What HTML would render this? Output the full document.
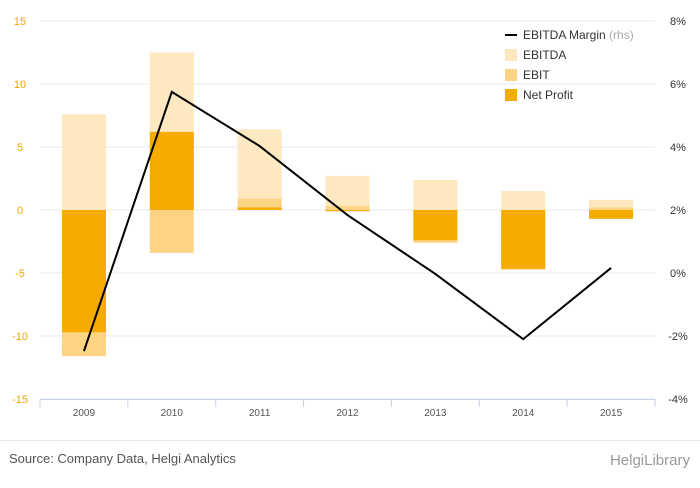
<!DOCTYPE html>
<html><head><meta charset="utf-8"><style>
body{margin:0;background:#fff;font-family:"Liberation Sans",sans-serif}
svg text{font-family:"Liberation Sans",sans-serif}
</style></head><body>
<svg id="c" width="700" height="483"></svg>
<script>
const categories=["2009","2010","2011","2012","2013","2014","2015"];
const ebitda=[7.6,12.5,6.4,2.7,2.4,1.5,0.8];
const ebit=[-11.6,-3.4,0.9,0.3,-2.6,-4.7,0.2];
const netProfit=[-9.7,6.2,0.2,-0.1,-2.4,-4.7,-0.7];
const margin=[-2.48,5.75,4.03,1.84,-0.03,-2.1,0.16];
const leftTicks=[15,10,5,0,-5,-10,-15];
const rightTicks=[8,6,4,2,0,-2,-4];
const NS="http://www.w3.org/2000/svg";
const svg=document.getElementById('c');
const x0=40,x1=655,yTop=21,yBot=399;
const band=(x1-x0)/categories.length;
const xc=i=>x0+band*(i+0.5);
const yL=v=>yTop+(15-v)*(yBot-yTop)/30;
const yR=v=>yTop+(8-v)*(yBot-yTop)/12;
function el(t,a,txt){const e=document.createElementNS(NS,t);for(const k in a)e.setAttribute(k,a[k]);if(txt!==undefined)e.textContent=txt;svg.appendChild(e);return e;}
leftTicks.forEach(v=>{
 const g=el('line',{x1:x0,x2:x1,y1:yL(v),y2:yL(v),stroke:'#e8e8e8'});
 
 
 const t=el('text',{x:20,y:yL(v)+4,'text-anchor':'middle','font-size':11,fill:'#f0a500'},v);
 
 
});
rightTicks.forEach(v=>{
 const t=el('text',{x:678,y:yR(v)+4,'text-anchor':'middle','font-size':11,fill:'#333'},v+'%');
 
 
});
function bar(v,i,color,name){
 const y=Math.min(yL(0),yL(v)),h=Math.abs(yL(v)-yL(0));
 const r=el('rect',{x:xc(i)-22,y:y,width:44,height:h,fill:color});
 
 
}
categories.forEach((c,i)=>{
 bar(ebitda[i],i,'#fde8bf','bar-ebitda-'+c);
 bar(ebit[i],i,'#fcd483','bar-ebit-'+c);
 bar(netProfit[i],i,'#f5ab00','bar-net-profit-'+c);
});
const ax=el('line',{x1:x0,x2:x1,y1:yBot+0.5,y2:yBot+0.5,stroke:'#c8d2e6'});


for(let i=0;i<=categories.length;i++){
 const tk=el('line',{x1:x0+band*i,x2:x0+band*i,y1:yBot,y2:yBot+8,stroke:'#c8d2e6'});
 
 
}
categories.forEach((c,i)=>{
 const t=el('text',{x:xc(i),y:yBot+17,'text-anchor':'middle','font-size':10,fill:'#555'},c);
 
 
});
const pts=margin.map((v,i)=>xc(i)+','+yR(v)).join(' ');
const ln=el('polyline',{points:pts,fill:'none',stroke:'#000','stroke-width':2});


const leg=[['line','#000','EBITDA Margin'],['rect','#fde8bf','EBITDA'],['rect','#fcd483','EBIT'],['rect','#f5ab00','Net Profit']];
leg.forEach((l,k)=>{
 const y=35+k*20;
 if(l[0]=='line'){const m=el('line',{x1:505,x2:517,y1:y,y2:y,stroke:'#000','stroke-width':2});}
 else{const m=el('rect',{x:505,y:y-6,width:12,height:12,fill:l[1]});}
 const t=el('text',{x:523,y:y+4,'font-size':12,fill:'#333'},l[2]);
 
 
 if(k==0){const s=el('tspan',{fill:'#aaa'},' (rhs)');t.appendChild(s);}
});
const sep=el('line',{x1:0,x2:700,y1:440.5,y2:440.5,stroke:'#e5e5e5'});


const src=el('text',{x:9,y:463,'font-size':13,fill:'#555'},'Source: Company Data, Helgi Analytics');


const br=el('text',{x:690,y:465,'text-anchor':'end','font-size':15,fill:'#999'},'HelgiLibrary');


</script>
</body></html>
